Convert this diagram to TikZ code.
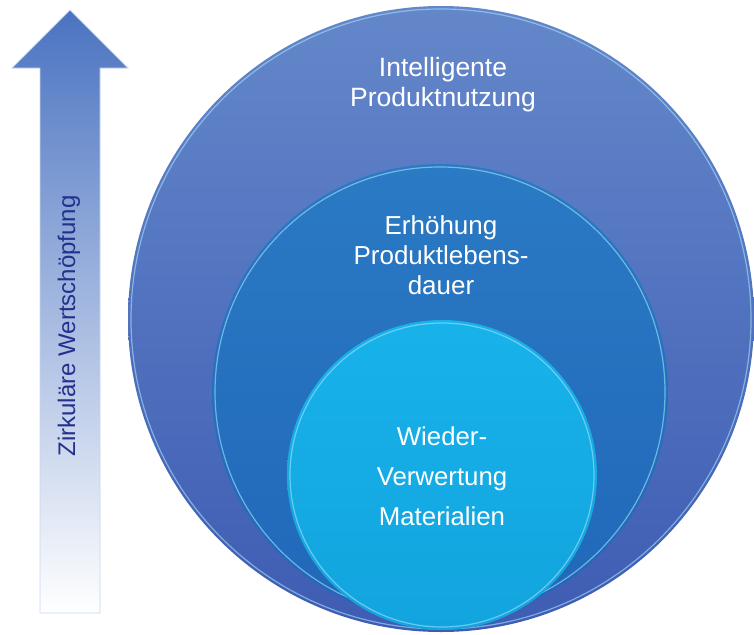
\documentclass[tikz,border=0pt]{standalone}
\usepackage{fontspec}
\setmainfont{Liberation Sans}
\definecolor{outertop}{HTML}{6487CA}
\definecolor{outerbot}{HTML}{3E5CB3}
\definecolor{midtop}{HTML}{2A7AC4}
\definecolor{midbot}{HTML}{2167B9}
\definecolor{innertop}{HTML}{18B2EA}
\definecolor{innerbot}{HTML}{12A4DE}
\definecolor{arrowtop}{HTML}{4A73C1}
\definecolor{arrowmid}{HTML}{AFC5E9}
\definecolor{arrowline}{HTML}{C6D5F0}
\definecolor{arrowtext}{HTML}{23318C}
\colorlet{rim}{cyan!35!white}
\newcommand{\textouter}{Intelligente\\ Produktnutzung}
\newcommand{\textmid}{Erhöhung\\ Produktlebens-\\ dauer}
\newcommand{\textinner}{Wieder-\\ Verwertung\\ Materialien}

\begin{document}
\begin{tikzpicture}[x=1pt,y=-1pt,
    disc/.style={circle,inner sep=0pt,outer sep=0pt,minimum size=#1},
    rimline/.style={draw=rim,line width=1.2pt,opacity=0.6},
    ringtext/.style={text=white,align=center,anchor=center},
    arrowlabel/.style={text=arrowtext,rotate=90,anchor=center}
]
\useasboundingbox (0,0) rectangle (754,634);

% Wertschoepfungs-Pfeil
\shade[top color=arrowtop,middle color=arrowmid,bottom color=white,draw=arrowline,line width=0.8pt]
  (70,10) -- (128,68) -- (100,68) -- (100,613) -- (40,613) -- (40,68) -- (12,68) -- cycle;
\node[arrowlabel,font=\fontsize{24}{28}\selectfont] (wert) at (69,326) {Zirkuläre Wertschöpfung};

% Kreise
\node[disc=626pt,top color=outertop,bottom color=outerbot] (outer) at (441,319) {};
\draw[rimline] (outer.center) circle (310);
\node[disc=456pt,top color=midtop,bottom color=midbot] (mid) at (440,392) {};
\draw[rimline] (mid.center) circle (225);
\node[disc=310pt,top color=innertop,bottom color=innerbot] (inner) at (442,475) {};
\draw[rimline] (inner.center) circle (152);

\node[ringtext,font=\fontsize{26.5}{30}\selectfont] (t1) at (443,85) {\textouter};
\node[ringtext,font=\fontsize{26}{30}\selectfont] (t2) at (441,255) {\textmid};
\node[ringtext,font=\fontsize{25.8}{40}\selectfont] (t3) at (442,476) {\textinner};

\end{tikzpicture}
\end{document}
